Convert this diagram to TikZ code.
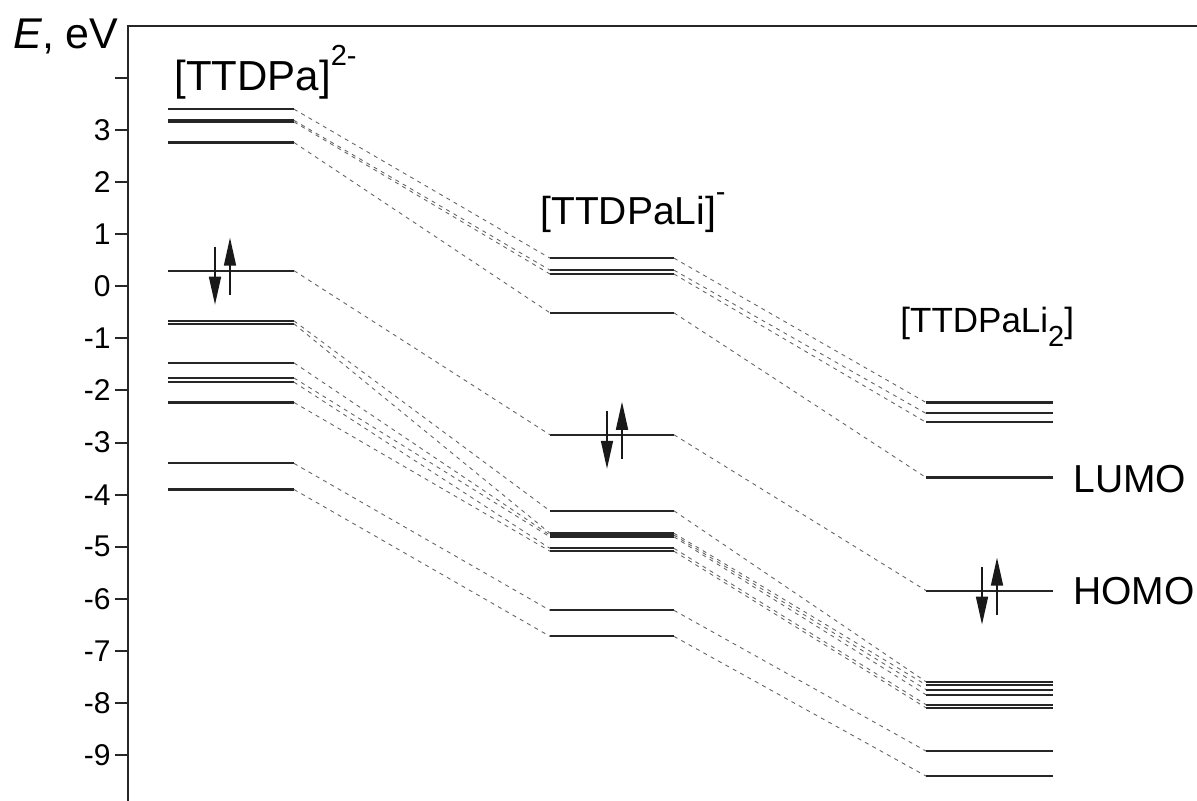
\documentclass[tikz,border=0pt]{standalone}
\usepackage{fontspec}
\setmainfont{Liberation Sans}
\usetikzlibrary{arrows.meta}
\newcommand\ssz{\fontsize{14.5}{15}\selectfont}
\begin{document}
\begin{tikzpicture}[x=0.5pt,y=-0.5pt,
  lvl/.style={line width=1.05pt, black!85},
  conn/.style={line width=0.45pt, black!60, dash pattern=on 2pt off 2.2pt},
  axisline/.style={line width=1pt, black!85},
  spin/.style={line width=0.8pt, black!90, -{Triangle[length=14pt,width=6pt]}},
  ticklab/.style={font=\fontsize{15}{16}\selectfont, anchor=east, inner sep=0pt},
  lab/.style={font=\fontsize{19.5}{20}\selectfont, anchor=base west, inner sep=0pt}]
\useasboundingbox (0,0) rectangle (1197,801);
% axes
\coordinate (ax0) at (128,801);
\coordinate (ax1) at (128,26);
\coordinate (ax2) at (1197,26);
\draw[axisline] (ax0) -- (ax1) -- (ax2);
\foreach \e [count=\k] in {4,3,2,1,0,-1,-2,-3,-4,-5,-6,-7,-8,-9} {
  \coordinate (tka\k) at (115,{286.3-52.1*(\e)});
  \coordinate (tkb\k) at (128,{286.3-52.1*(\e)});
  \draw[axisline] (tka\k) -- (tkb\k);
}
\foreach \e [count=\k] in {3,2,1,0,-1,-2,-3,-4,-5,-6,-7,-8,-9} {
  \node[ticklab] (tl\k) at (111,{286.3-52.1*(\e)}) {\e};
}
% column 1
\foreach \i/\e in {1/3.40,2/3.185,3/3.155,4/2.76,5/0.30,6/-0.665,7/-0.72,8/-1.47,9/-1.76,10/-1.84,11/-2.23,12/-3.40,13/-3.90} {
  \coordinate (aL\i) at (168,{286.3-52.1*(\e)});
  \coordinate (aR\i) at (294,{286.3-52.1*(\e)});
  \draw[lvl] (aL\i) -- (aR\i);
}
% column 2
\foreach \i/\e in {1/0.54,2/0.31,3/0.235,4/-0.51,5/-2.85,6/-4.31,7/-4.74,8/-4.775,9/-4.81,10/-5.03,11/-5.085,12/-6.22,13/-6.72} {
  \coordinate (bL\i) at (550,{286.3-52.1*(\e)});
  \coordinate (bR\i) at (674,{286.3-52.1*(\e)});
  \draw[lvl] (bL\i) -- (bR\i);
}
% column 3
\foreach \i/\e in {1/-2.23,2/-2.44,3/-2.61,4/-3.67,5/-5.84,6/-7.59,7/-7.65,8/-7.74,9/-7.84,10/-8.03,11/-8.09,12/-8.92,13/-9.40} {
  \coordinate (cL\i) at (926,{286.3-52.1*(\e)});
  \coordinate (cR\i) at (1053,{286.3-52.1*(\e)});
  \draw[lvl] (cL\i) -- (cR\i);
}
% correlation lines
\foreach \i in {1,...,13} {
  \draw[conn] (aR\i) -- (bL\i);
  \draw[conn] (bR\i) -- (cL\i);
}
% spin arrows
\coordinate (s1a) at (215,{270.7-24}); \coordinate (s1b) at (215,{270.7+34});
\coordinate (s1c) at (230,{270.7+24}); \coordinate (s1d) at (230,{270.7-33});
\draw[spin] (s1a) -- (s1b); \draw[spin] (s1c) -- (s1d);
\coordinate (s2a) at (607,{434.8-24}); \coordinate (s2b) at (607,{434.8+34});
\coordinate (s2c) at (622,{434.8+24}); \coordinate (s2d) at (622,{434.8-33});
\draw[spin] (s2a) -- (s2b); \draw[spin] (s2c) -- (s2d);
\coordinate (s3a) at (982,{590.6-24}); \coordinate (s3b) at (982,{590.6+34});
\coordinate (s3c) at (997,{590.6+24}); \coordinate (s3d) at (997,{590.6-33});
\draw[spin] (s3a) -- (s3b); \draw[spin] (s3c) -- (s3d);
% labels
\node[lab, font=\fontsize{21.5}{22}\selectfont] (eaxis) at (13,49) {\textit{E}, eV};
\node[lab, font=\fontsize{21}{22}\selectfont] (n1) at (174,91) {[TTDPa]\raisebox{0.6em}{\ssz 2-}};
\node[lab] (n2) at (540,225) {[TTDPaLi]\raisebox{0.6em}{\ssz -}};
\node[lab, font=\fontsize{17.5}{18}\selectfont] (n3) at (900,333) {[TTDPaLi\raisebox{-0.4em}{\ssz 2}]};
\node[lab] (lumo) at (1073,492) {LUMO};
\node[lab] (homo) at (1073,604) {HOMO};
\end{tikzpicture}
\end{document}
